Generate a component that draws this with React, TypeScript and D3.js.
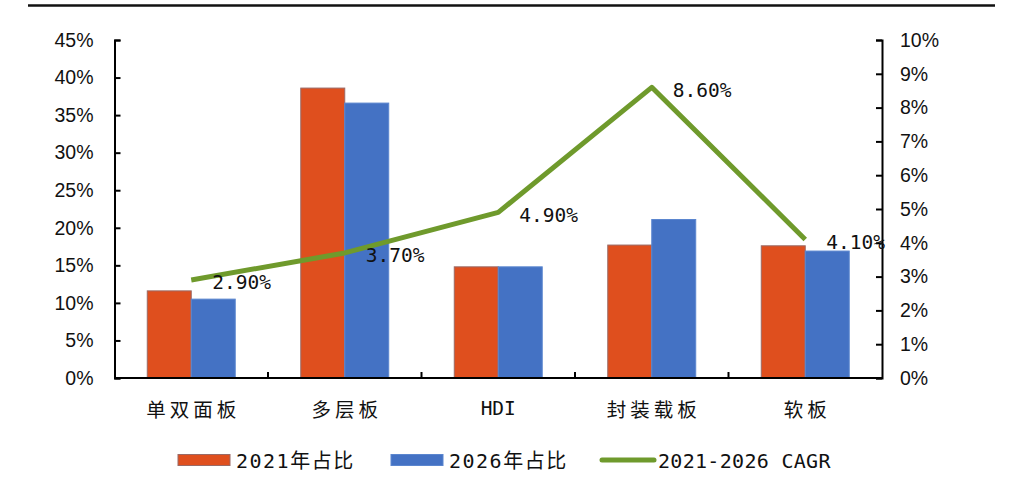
import { useEffect, useRef } from 'react'
import * as d3 from 'd3'

// 各类PCB产值占比 (左轴) 与 2021-2026 CAGR (右轴)
const CATEGORIES = ['单双面板', '多层板', 'HDI', '封装载板', '软板']
const SHARE_2021 = [11.6, 38.6, 14.8, 17.7, 17.6]
const SHARE_2026 = [10.5, 36.6, 14.8, 21.1, 16.9]
const CAGR = [2.9, 3.7, 4.9, 8.6, 4.1]
const CAGR_LABELS = ['2.90%', '3.70%', '4.90%', '8.60%', '4.10%']
const LEFT_TICKS = [0, 5, 10, 15, 20, 25, 30, 35, 40, 45]
const RIGHT_TICKS = [0, 1, 2, 3, 4, 5, 6, 7, 8, 9, 10]
const SERIES = ['2021年占比', '2026年占比']
const LINE_NAME = '2021-2026 CAGR'

const RED = '#DF4F1E'
const BLUE = '#4472C4'
const GREEN = '#6F9A2C'
const NUM_FONT = '"Liberation Sans", Arial, sans-serif'
const MONO_FONT = '"DejaVu Sans Mono", "Noto Sans CJK SC", monospace'

export default function App() {
  const svgRef = useRef<SVGSVGElement>(null)

  useEffect(() => {
    const svg = d3.select(svgRef.current)
    svg.selectAll('*').remove()

    const width = 1024
    const height = 491
    const left = 114.5
    const right = 882
    const top = 40
    const bottom = 378

    // top rule
    svg.append('line')
      .attr('x1', 28).attr('x2', 995).attr('y1', 5.5).attr('y2', 5.5)
      .attr('stroke', '#111').attr('stroke-width', 2.5)

    const x = d3.scaleBand<string>().domain(CATEGORIES).range([left, right]).padding(0)
    const xInner = d3.scaleBand<string>().domain(SERIES).range([0, x.bandwidth()])
      .paddingInner(0).paddingOuter(0.745)
    const yL = d3.scaleLinear().domain([0, 45]).range([bottom, top])
    const yR = d3.scaleLinear().domain([0, 10]).range([bottom, top])

    // bars
    const seriesData = [SHARE_2021, SHARE_2026]
    const colors = [RED, BLUE]
    const strokes = ['#9A6A66', '#5B86CF']
    seriesData.forEach((vals, si) => {
      svg.append('g').selectAll('rect')
        .data(vals)
        .join('rect')
        .attr('x', (_, i) => (x(CATEGORIES[i]) ?? 0) + (xInner(SERIES[si]) ?? 0))
        .attr('y', d => yL(d))
        .attr('width', xInner.bandwidth())
        .attr('height', d => bottom - yL(d))
        .attr('fill', colors[si])
        .attr('stroke', strokes[si])
        .attr('stroke-width', 1)
    })

    // left axis
    const gl = svg.append('g').attr('transform', `translate(${left},0)`)
      .call(d3.axisRight(yL).tickValues(LEFT_TICKS).tickSize(6).tickFormat(d => `${d}%`))
    gl.select('.domain').attr('stroke', '#000').attr('stroke-width', 2)
    gl.selectAll('.tick line').attr('stroke', '#000').attr('stroke-width', 2)
    gl.selectAll('text')
      .attr('x', -21).attr('text-anchor', 'end')
      .attr('fill', '#111').attr('font-size', 19.5).attr('font-family', NUM_FONT)

    // right axis
    const gr = svg.append('g').attr('transform', `translate(${right},0)`)
      .call(d3.axisLeft(yR).tickValues(RIGHT_TICKS).tickSize(6).tickFormat(d => `${d}%`))
    gr.select('.domain').attr('stroke', '#000').attr('stroke-width', 2)
    gr.selectAll('.tick line').attr('stroke', '#000').attr('stroke-width', 2)
    gr.selectAll('text')
      .attr('x', 18).attr('text-anchor', 'start')
      .attr('fill', '#111').attr('font-size', 19.5).attr('font-family', NUM_FONT)

    // bottom axis with ticks at category boundaries
    svg.append('line')
      .attr('x1', left).attr('x2', right).attr('y1', bottom).attr('y2', bottom)
      .attr('stroke', '#000').attr('stroke-width', 2)
    svg.append('g').selectAll('line')
      .data(CATEGORIES.slice(1))
      .join('line')
      .attr('x1', d => x(d) ?? 0).attr('x2', d => x(d) ?? 0)
      .attr('y1', bottom).attr('y2', bottom - 6)
      .attr('stroke', '#000').attr('stroke-width', 2)
    svg.append('g').selectAll('text')
      .data(CATEGORIES)
      .join('text')
      .attr('x', d => (x(d) ?? 0) + x.bandwidth() / 2 + (d === 'HDI' ? 0 : 2))
      .attr('y', 408)
      .attr('dominant-baseline', 'central')
      .attr('text-anchor', 'middle')
      .attr('font-size', 19.5)
      .attr('letter-spacing', d => (d === 'HDI' ? 0 : 4))
      .attr('font-family', d => (d === 'HDI' ? MONO_FONT : '"Noto Sans CJK SC", sans-serif'))
      .attr('fill', '#111')
      .text(d => d)

    // CAGR line
    const cx = (i: number) => (x(CATEGORIES[i]) ?? 0) + x.bandwidth() / 2
    const line = d3.line<number>().x((_, i) => cx(i)).y(d => yR(d))
    svg.append('path')
      .attr('d', line(CAGR) ?? '')
      .attr('fill', 'none')
      .attr('stroke', GREEN)
      .attr('stroke-width', 5)
      .attr('stroke-linejoin', 'round')

    svg.append('g').selectAll('text')
      .data(CAGR)
      .join('text')
      .attr('x', (_, i) => cx(i) + 21)
      .attr('y', d => yR(d) + 3)
      .attr('dominant-baseline', 'central')
      .attr('font-size', 19.5)
      .attr('font-family', MONO_FONT)
      .attr('fill', '#111')
      .text((_, i) => CAGR_LABELS[i])

    // legend
    const lg = svg.append('g')
    const legendY = 460
    const items = [
      { x: 178, color: RED, stroke: '#9A6A66', label: SERIES[0], kind: 'rect' },
      { x: 391, color: BLUE, stroke: '#5B86CF', label: SERIES[1], kind: 'rect' },
      { x: 600, color: GREEN, stroke: GREEN, label: LINE_NAME, kind: 'line' },
    ]
    items.forEach(it => {
      if (it.kind === 'rect') {
        lg.append('rect')
          .attr('x', it.x).attr('y', legendY - 5.5).attr('width', 52).attr('height', 11)
          .attr('fill', it.color).attr('stroke', it.stroke).attr('stroke-width', 1)
      } else {
        lg.append('line')
          .attr('x1', it.x + 2).attr('x2', it.x + 54).attr('y1', legendY).attr('y2', legendY)
          .attr('stroke', it.color).attr('stroke-width', 5).attr('stroke-linecap', 'round')
      }
      lg.append('text')
        .attr('x', it.x + 58)
        .attr('y', legendY + 1)
        .attr('dominant-baseline', 'central')
        .attr('font-size', 20)
        .attr('letter-spacing', it.kind === 'rect' ? 1.5 : 0.3)
        .attr('font-family', MONO_FONT)
        .attr('fill', '#111')
        .text(it.label)
    })

    svg.attr('width', width).attr('height', height)
  }, [])

  return (
    <div style={{ position: 'absolute', left: 0, top: 0, width: 1024, height: 491, background: '#fff' }}>
      <svg ref={svgRef} width={1024} height={491} style={{ display: 'block' }} />
    </div>
  )
}
